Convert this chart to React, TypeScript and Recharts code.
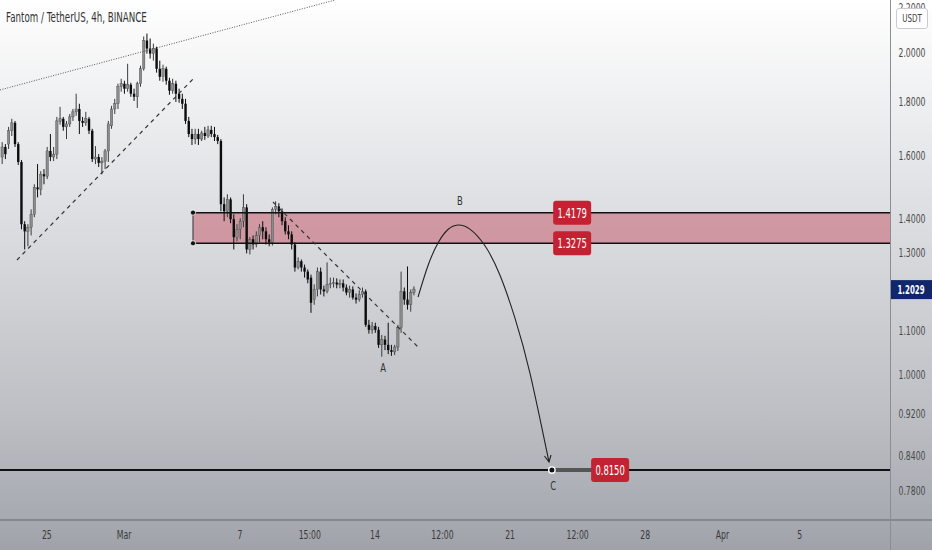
import React from 'react';
import {
  ComposedChart,
  Bar,
  Line,
  XAxis,
  YAxis,
  ReferenceLine,
  ReferenceArea,
  ReferenceDot,
} from 'recharts';

// FTM/USDT 4h candles
const opens = [
  1.598, 1.633, 1.643, 1.691, 1.72, 1.643, 1.581, 1.383, 1.362, 1.374,
  1.413, 1.497, 1.491, 1.54, 1.533, 1.619, 1.598, 1.608, 1.724, 1.735,
  1.705, 1.716, 1.742, 1.761, 1.772, 1.727, 1.72, 1.735, 1.691, 1.591,
  1.598, 1.578, 1.584, 1.619, 1.709, 1.772, 1.792, 1.859, 1.871, 1.851,
  1.867, 1.831, 1.819, 1.871, 1.932, 2.053, 2.018, 1.996, 2.018, 1.932,
  1.899, 1.932, 1.883, 1.843, 1.871, 1.831, 1.811, 1.792, 1.727, 1.679,
  1.661, 1.679, 1.661, 1.683, 1.672, 1.694, 1.679, 1.668, 1.654, 1.444,
  1.422, 1.459, 1.398, 1.345, 1.368, 1.392, 1.434, 1.31, 1.339, 1.324,
  1.35, 1.374, 1.362, 1.339, 1.33, 1.428, 1.437, 1.422, 1.392, 1.362,
  1.353, 1.324, 1.26, 1.277, 1.26, 1.249, 1.233, 1.176, 1.202, 1.249,
  1.202, 1.197, 1.215, 1.218, 1.22, 1.215, 1.218, 1.207, 1.194, 1.202,
  1.181, 1.176, 1.189, 1.197, 1.114, 1.102, 1.111, 1.102, 1.067, 1.079,
  1.067, 1.055, 1.051, 1.062, 1.107, 1.197, 1.176, 1.163, 1.194,
];
const highs = [
  1.65, 1.643, 1.705, 1.735, 1.727, 1.65, 1.588, 1.392, 1.383, 1.428,
  1.507, 1.574, 1.55, 1.557, 1.633, 1.679, 1.633, 1.742, 1.78, 1.742,
  1.727, 1.753, 1.772, 1.831, 1.792, 1.742, 1.761, 1.742, 1.698, 1.636,
  1.608, 1.598, 1.626, 1.727, 1.784, 1.811, 1.871, 1.891, 1.883, 1.953,
  1.875, 1.851, 1.879, 1.945, 2.071, 2.084, 2.062, 2.039, 2.026, 1.966,
  1.949, 1.941, 1.895, 1.891, 1.883, 1.851, 1.831, 1.811, 1.742, 1.698,
  1.698, 1.698, 1.691, 1.705, 1.709, 1.709, 1.705, 1.676, 1.661, 1.465,
  1.475, 1.465, 1.413, 1.383, 1.401, 1.475, 1.444, 1.345, 1.35, 1.362,
  1.383, 1.392, 1.374, 1.353, 1.434, 1.453, 1.447, 1.431, 1.404, 1.38,
  1.362, 1.33, 1.288, 1.282, 1.268, 1.255, 1.241, 1.215, 1.26, 1.26,
  1.212, 1.274, 1.233, 1.233, 1.231, 1.228, 1.228, 1.215, 1.212, 1.21,
  1.192, 1.2, 1.207, 1.202, 1.126, 1.121, 1.119, 1.109, 1.09, 1.088,
  1.119, 1.067, 1.067, 1.114, 1.249, 1.207, 1.263, 1.202, 1.21,
];
const lows = [
  1.574, 1.591, 1.626, 1.672, 1.633, 1.571, 1.368, 1.31, 1.319, 1.35,
  1.404, 1.465, 1.472, 1.507, 1.524, 1.584, 1.584, 1.591, 1.713, 1.691,
  1.661, 1.705, 1.727, 1.746, 1.679, 1.705, 1.709, 1.679, 1.581, 1.574,
  1.564, 1.54, 1.557, 1.581, 1.698, 1.753, 1.772, 1.839, 1.831, 1.839,
  1.819, 1.803, 1.776, 1.859, 1.924, 1.996, 1.975, 1.966, 1.916, 1.883,
  1.879, 1.867, 1.827, 1.831, 1.799, 1.796, 1.772, 1.716, 1.668, 1.64,
  1.643, 1.64, 1.654, 1.658, 1.665, 1.668, 1.654, 1.643, 1.422, 1.392,
  1.404, 1.386, 1.31, 1.333, 1.339, 1.374, 1.299, 1.296, 1.31, 1.316,
  1.33, 1.339, 1.324, 1.319, 1.321, 1.413, 1.404, 1.38, 1.353, 1.339,
  1.31, 1.249, 1.255, 1.249, 1.233, 1.218, 1.143, 1.163, 1.184, 1.189,
  1.184, 1.192, 1.205, 1.207, 1.205, 1.205, 1.197, 1.187, 1.181, 1.176,
  1.166, 1.171, 1.181, 1.109, 1.093, 1.093, 1.095, 1.06, 1.04, 1.055,
  1.046, 1.042, 1.044, 1.053, 1.095, 1.163, 1.151, 1.146, 1.187,
];
const closes = [
  1.633, 1.608, 1.691, 1.72, 1.643, 1.581, 1.383, 1.362, 1.374, 1.413,
  1.497, 1.491, 1.54, 1.533, 1.619, 1.598, 1.608, 1.727, 1.735, 1.705,
  1.716, 1.742, 1.761, 1.772, 1.727, 1.72, 1.735, 1.691, 1.591, 1.598,
  1.578, 1.584, 1.619, 1.716, 1.772, 1.792, 1.859, 1.871, 1.851, 1.867,
  1.831, 1.819, 1.871, 1.932, 2.053, 2.018, 1.996, 2.018, 1.932, 1.899,
  1.932, 1.883, 1.843, 1.871, 1.831, 1.811, 1.792, 1.727, 1.679, 1.661,
  1.679, 1.661, 1.683, 1.672, 1.694, 1.679, 1.668, 1.654, 1.444, 1.422,
  1.459, 1.398, 1.345, 1.368, 1.392, 1.434, 1.31, 1.339, 1.324, 1.35,
  1.374, 1.362, 1.339, 1.33, 1.428, 1.437, 1.422, 1.392, 1.362, 1.353,
  1.324, 1.26, 1.277, 1.26, 1.249, 1.228, 1.168, 1.202, 1.249, 1.202,
  1.197, 1.215, 1.218, 1.22, 1.215, 1.218, 1.207, 1.194, 1.202, 1.181,
  1.176, 1.189, 1.197, 1.114, 1.102, 1.111, 1.102, 1.067, 1.079, 1.067,
  1.055, 1.051, 1.062, 1.107, 1.197, 1.176, 1.163, 1.194, 1.2029,
];

// time axis, in 4h-candle units (0 = Feb 22 16:00)
const xTicks = [14, 38, 74, 95.75, 116, 137, 158, 179, 200, 224, 248];
const xLabels = ['25', 'Mar', '7', '15:00', '14', '12:00', '21', '12:00', '28', 'Apr', '5'];
const priceTicks = [0.78, 0.84, 0.92, 1.0, 1.1, 1.3, 1.4, 1.6, 1.8, 2.0, 2.2];

// projected path A -> B -> C
const pathIdx = [129.4, 132.5, 135.6, 138.7, 141.8, 145.5, 150.2, 154.9, 159.5, 164.2, 170.1];
const pathPrice = [1.1826, 1.2655, 1.3283, 1.3674, 1.3807, 1.3686, 1.3203, 1.2386, 1.1307, 1.0037, 0.8294];

const zoneTop = 1.4179;
const zoneBottom = 1.3275;
const target = 0.815;
const lastPrice = 1.2029;

const candles = opens.map((o, i) => ({
  idx: i,
  open: o,
  high: highs[i],
  low: lows[i],
  close: closes[i],
}));
const pathData = pathIdx.map((x, i) => ({ idx: x, price: pathPrice[i] }));

const X_MIN = -0.55;
const X_MAX = 276.1;
const FONT = '"DejaVu Sans", sans-serif';

// the screenshot's text is narrow, so squeeze it horizontally
const Narrow = ({ x, y, size, fill, bold, scale = 0.62, anchor = 'middle', children }: any) => (
  <text
    transform={`translate(${x} ${y}) scale(${scale} 1)`}
    textAnchor={anchor}
    fontSize={size}
    fontWeight={bold ? 'bold' : 'normal'}
    fill={fill}
    fontFamily={FONT}
  >
    {children}
  </text>
);

const Candle = (props: any) => {
  const { x, y, width, height, payload } = props;
  if (!payload || !isFinite(y) || !isFinite(height)) return null;
  const cx = x + width / 2;
  const yTop = Math.min(y, y + height);
  const yBot = Math.max(y, y + height);
  const lh = Math.log(payload.high);
  const ll = Math.log(payload.low);
  const span = lh - ll || 1;
  const py = (p: number) => yTop + ((yBot - yTop) * (lh - Math.log(p))) / span;
  const up = payload.close >= payload.open;
  const b1 = py(Math.max(payload.open, payload.close));
  const b2 = py(Math.min(payload.open, payload.close));
  return (
    <g>
      <line x1={cx} x2={cx} y1={yTop} y2={yBot} stroke={up ? '#3c3c3c' : '#0d0d0d'} strokeWidth={1} />
      <rect
        x={cx - 1.2}
        y={b1}
        width={2.4}
        height={Math.max(b2 - b1, 1)}
        fill={up ? '#8b8b8b' : '#0d0d0d'}
        stroke={up ? '#4a4a4a' : 'none'}
        strokeWidth={0.4}
      />
    </g>
  );
};

const XTick = (props: any) => {
  const { x, y, payload } = props;
  const i = xTicks.indexOf(payload.value);
  return (
    <Narrow x={x} y={y + 11} size={12.5} fill="#3a3a3a">
      {i >= 0 ? xLabels[i] : ''}
    </Narrow>
  );
};

const YTick = (props: any) => {
  const { y, payload } = props;
  return (
    <Narrow x={912} y={y + 4} size={12.5} fill="#4a4a4a">
      {Number(payload.value).toFixed(4)}
    </Narrow>
  );
};

const redTag = (text: string) => (p: any) => (
  <g>
    <rect x={p.cx - 19} y={p.cy - 12} width={38} height={24} rx={3} fill="#c42233" />
    <Narrow x={p.cx} y={p.cy + 5} size={14} fill="#fff" scale={0.6}>
      {text}
    </Narrow>
  </g>
);

const letter = (text: string) => (p: any) => (
  <Narrow x={p.cx} y={p.cy + 4} size={12} fill="#333" scale={0.7}>
    {text}
  </Narrow>
);

const Arrow = (p: any) => (
  <path
    d={`M${p.cx - 4.5},${p.cy - 6} L${p.cx},${p.cy} L${p.cx + 2},${p.cy - 7}`}
    fill="none"
    stroke="#222"
    strokeWidth={1.1}
  />
);

const Handle = (p: any) => <circle cx={p.cx} cy={p.cy} r={2.6} fill="#111" stroke="#fff" strokeWidth={0.8} />;

const TargetDot = (p: any) => <circle cx={p.cx} cy={p.cy} r={3.2} fill="#111" stroke="#fff" strokeWidth={1.4} />;

const LastTag = (p: any) => (
  <g>
    <rect x={p.cx} y={p.cy - 9} width={42} height={19} fill="#11276b" />
    <Narrow x={p.cx + 21} y={p.cy + 4.5} size={12.5} fill="#fff" bold scale={0.56}>
      {lastPrice.toFixed(4)}
    </Narrow>
  </g>
);

const App: React.FC = () => {
  return (
    <div
      style={{
        position: 'absolute',
        left: 0,
        top: 0,
        width: 932,
        height: 550,
        overflow: 'hidden',
        background: 'linear-gradient(to bottom, #ffffff 0%, #e9eaec 25%, #d3d5d9 50%, #bdbfc4 75%, #a6a9b0 95%, #9fa2a9 100%)',
      }}
    >
      <ComposedChart width={932} height={550} data={candles} margin={{ top: 0, right: 0, bottom: 0, left: 0 }}>
        <XAxis
          dataKey="idx"
          type="number"
          domain={[X_MIN, X_MAX]}
          allowDataOverflow
          ticks={xTicks}
          interval={0}
          tick={<XTick />}
          axisLine={false}
          tickLine={false}
          height={30}
        />
        <YAxis
          orientation="right"
          type="number"
          scale="log"
          domain={[0.7321, 2.24]}
          allowDataOverflow
          ticks={priceTicks}
          interval={0}
          tick={<YTick />}
          axisLine={false}
          tickLine={false}
          width={42}
        />

        <ReferenceArea
          x1={59.44}
          x2={X_MAX}
          y1={zoneBottom}
          y2={zoneTop}
          fill="#c23a4c"
          fillOpacity={0.42}
          stroke="none"
          ifOverflow="visible"
        />

        <Bar dataKey={(d: any) => [d.low, d.high]} barSize={2} shape={<Candle />} isAnimationActive={false} />

        <ReferenceLine
          segment={[{ x: 59.44, y: zoneTop }, { x: X_MAX, y: zoneTop }]}
          stroke="#111"
          strokeWidth={1.5}
          ifOverflow="visible"
        />
        <ReferenceLine
          segment={[{ x: 59.44, y: zoneBottom }, { x: X_MAX, y: zoneBottom }]}
          stroke="#111"
          strokeWidth={1.5}
          ifOverflow="visible"
        />
        <ReferenceLine
          segment={[{ x: 59.44, y: zoneBottom }, { x: 59.44, y: zoneTop }]}
          stroke="#333"
          strokeWidth={1}
          ifOverflow="visible"
        />
        <ReferenceDot x={59.44} y={zoneTop} shape={Handle} ifOverflow="visible" />
        <ReferenceDot x={59.44} y={zoneBottom} shape={Handle} ifOverflow="visible" />

        <ReferenceLine
          segment={[{ x: X_MIN, y: 1.846 }, { x: 103.6, y: 2.24 }]}
          stroke="#555"
          strokeDasharray="1 1.5"
          strokeWidth={1}
          ifOverflow="visible"
        />
        <ReferenceLine
          segment={[{ x: 4.73, y: 1.2806 }, { x: 59.75, y: 1.894 }]}
          stroke="#333"
          strokeDasharray="4 4"
          strokeWidth={1.2}
          ifOverflow="visible"
        />
        <ReferenceLine
          segment={[{ x: 84.3, y: 1.4507 }, { x: 129.4, y: 1.062 }]}
          stroke="#333"
          strokeDasharray="4 4"
          strokeWidth={1.2}
          ifOverflow="visible"
        />

        <ReferenceLine y={target} stroke="#111" strokeWidth={2} ifOverflow="visible" />
        <ReferenceLine
          segment={[{ x: 171.0, y: target }, { x: 183.5, y: target }]}
          stroke="#555"
          strokeWidth={4}
          ifOverflow="visible"
        />

        <Line
          data={pathData}
          dataKey="price"
          type="natural"
          stroke="#222"
          strokeWidth={1.1}
          dot={false}
          activeDot={false}
          isAnimationActive={false}
        />
        <ReferenceDot x={170.1} y={0.8294} shape={Arrow} ifOverflow="visible" />
        <ReferenceDot x={171.0} y={target} shape={TargetDot} ifOverflow="visible" />

        <ReferenceDot x={177.3} y={zoneTop} shape={redTag('1.4179')} ifOverflow="visible" />
        <ReferenceDot x={177.3} y={zoneBottom} shape={redTag('1.3275')} ifOverflow="visible" />
        <ReferenceDot x={189.1} y={target} shape={redTag('0.8150')} ifOverflow="visible" />

        <ReferenceDot x={142.4} y={1.454} shape={letter('B')} ifOverflow="visible" />
        <ReferenceDot x={118.5} y={1.0152} shape={letter('A')} ifOverflow="visible" />
        <ReferenceDot x={171.4} y={0.7877} shape={letter('C')} ifOverflow="visible" />

        <ReferenceDot x={X_MAX} y={lastPrice} shape={LastTag} ifOverflow="visible" />
      </ComposedChart>

      <div style={{ position: 'absolute', left: 0, top: 519, width: 932, height: 2, background: '#85888f' }} />
      <div style={{ position: 'absolute', left: 890, top: 0, width: 1, height: 550, background: '#8a8d94' }} />
      <div
        style={{
          position: 'absolute',
          left: 6,
          top: 9,
          fontFamily: FONT,
          fontSize: 14.5,
          color: '#333',
          whiteSpace: 'nowrap',
          transform: 'scaleX(0.6)',
          transformOrigin: 'left top',
        }}
      >
        Fantom / TetherUS, 4h, BINANCE
      </div>
      <div
        style={{
          position: 'absolute',
          left: 896,
          top: 8,
          width: 30,
          height: 19,
          border: '1px solid #c9cbd0',
          borderRadius: 3,
          background: '#fff',
          fontFamily: FONT,
          fontSize: 11,
          color: '#444',
          textAlign: 'center',
          lineHeight: '19px',
        }}
      >
        <span style={{ display: 'inline-block', transform: 'scaleX(0.65)' }}>USDT</span>
      </div>
    </div>
  );
};

export default App;
